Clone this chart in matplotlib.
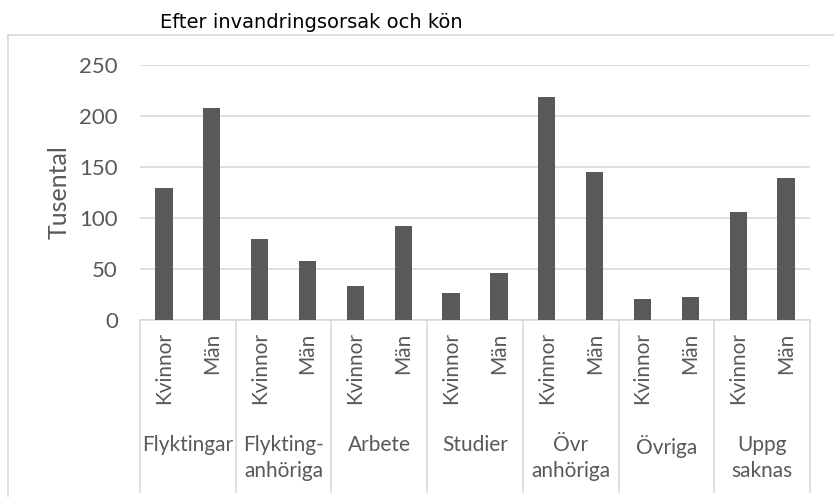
import matplotlib.pyplot as plt
from matplotlib.lines import Line2D
import numpy as np

# Data (tusental)
grupper = ["Flyktingar", "Flykting-\nanhöriga", "Arbete", "Studier",
           "Övr\nanhöriga", "Övriga", "Uppg\nsaknas"]
kon = ["Kvinnor", "Män"]
kvinnor = [129, 79, 33, 26, 219, 21, 106]
man = [208, 58, 92, 46, 145, 23, 139]

plt.rcParams['font.family'] = ['Lato', 'DejaVu Sans']
text_col = '#595959'

W, H = 834, 497
fig = plt.figure(figsize=(W / 100, H / 100), dpi=100)
ax = fig.add_axes([140 / W, 1 - 320 / H, 670 / W, 255 / H])

varden = []
for k, m in zip(kvinnor, man):
    varden += [k, m]
x = np.arange(len(varden))
ax.bar(x, varden, width=0.36, color='#595959', zorder=3)

ax.set_xlim(-0.5, len(varden) - 0.5)
ax.set_ylim(0, 250)
ax.set_yticks(range(0, 251, 50))
ax.grid(axis='y', color='#d9d9d9', linewidth=1.2, zorder=0)
for s in ['top', 'right', 'left']:
    ax.spines[s].set_visible(False)
ax.spines['bottom'].set_color('#d9d9d9')
ax.spines['bottom'].set_linewidth(1.2)
ax.tick_params(axis='y', length=0, labelsize=16, colors=text_col, pad=16)
ax.tick_params(axis='x', length=0)
ax.set_xticks(x)
ax.set_xticklabels(kon * len(grupper), rotation=90, fontsize=15,
                   color=text_col, va='top')
ax.tick_params(axis='x', pad=9)
ax.set_ylabel("Tusental", fontsize=18, color=text_col, labelpad=6)

# gruppetiketter och avdelare under axeln
trans = ax.get_xaxis_transform()
for i in range(len(grupper) + 1):
    ax.add_line(Line2D([2 * i - 0.5, 2 * i - 0.5], [0, -172 / 255],
                       transform=trans, color='#d9d9d9', linewidth=1.2,
                       clip_on=False))
for i, g in enumerate(grupper):
    ax.text(2 * i + 0.5, -115 / 255, g, transform=trans, ha='center',
            va='top', fontsize=15, color=text_col, linespacing=1.35)

# ram runt diagrammet
fig.add_artist(Line2D([8 / W, 8 / W], [0, 1 - 35 / H], color='#d9d9d9',
                      linewidth=1.2))
fig.add_artist(Line2D([8 / W, 1], [1 - 35 / H, 1 - 35 / H], color='#d9d9d9',
                      linewidth=1.2))

fig.text(160 / W, 1 - 22 / H, "Efter invandringsorsak och kön", fontsize=14,
         color='black', va='center', family=['DejaVu Sans'])

fig.savefig("out.png", dpi=100, facecolor='white')
